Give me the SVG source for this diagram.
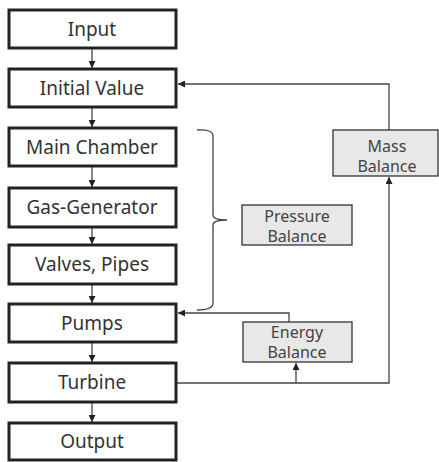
<svg xmlns="http://www.w3.org/2000/svg" width="439" height="462" viewBox="0 0 439 462">
<defs>
<style>
.box{fill:#fff;stroke:#222;stroke-width:3}
.bal{fill:#e8e8e8;stroke:#333;stroke-width:1.3}
.t{font-family:"Noto Sans","Open Sans",sans-serif;font-size:19px;fill:#333;text-anchor:middle}
.s{font-family:"Noto Sans","Open Sans",sans-serif;font-size:16px;fill:#444;text-anchor:middle}
.c{fill:none;stroke:#444;stroke-width:1.3}
</style>
<marker id="ah" viewBox="0 0 10 10" refX="10" refY="5" markerWidth="7" markerHeight="7" markerUnits="userSpaceOnUse" orient="auto">
<path d="M0,0 L10,5 L0,10 z" fill="#222"/>
</marker>
</defs>
<rect width="439" height="462" fill="#fff"/>
<g id="connectors">
<line class="c" x1="92" y1="49" x2="92" y2="68" marker-end="url(#ah)"/>
<line class="c" x1="92" y1="108" x2="92" y2="127" marker-end="url(#ah)"/>
<line class="c" x1="92" y1="167" x2="92" y2="187" marker-end="url(#ah)"/>
<line class="c" x1="92" y1="228" x2="92" y2="244" marker-end="url(#ah)"/>
<line class="c" x1="92" y1="285" x2="92" y2="303" marker-end="url(#ah)"/>
<line class="c" x1="92" y1="343" x2="92" y2="362" marker-end="url(#ah)"/>
<line class="c" x1="92" y1="403" x2="92" y2="422" marker-end="url(#ah)"/>
<polyline class="c" points="389,130 389,84 178,84" marker-end="url(#ah)"/>
<polyline class="c" points="289,322 289,313 178,313" marker-end="url(#ah)"/>
<polyline class="c" points="177,383 389,383 389,177" marker-end="url(#ah)"/>
<line class="c" x1="296" y1="383" x2="296" y2="363" marker-end="url(#ah)"/>
<path class="c" d="M197,130 Q213,129 213,136 L213,215 Q213,220 227,220 Q213,220 213,225 L213,303 Q213,310 197,310"/>
</g>
<g id="input"><rect class="box" x="9" y="10" width="167" height="38"/><text class="t" x="92" y="36">Input</text></g>
<g id="initial-value"><rect class="box" x="9" y="69" width="167" height="38"/><text class="t" x="92" y="95">Initial Value</text></g>
<g id="main-chamber"><rect class="box" x="9" y="128" width="167" height="38"/><text class="t" x="92" y="154">Main Chamber</text></g>
<g id="gas-generator"><rect class="box" x="9" y="188" width="167" height="39"/><text class="t" x="92" y="214">Gas-Generator</text></g>
<g id="valves-pipes"><rect class="box" x="9" y="245" width="167" height="39"/><text class="t" x="92" y="271">Valves, Pipes</text></g>
<g id="pumps"><rect class="box" x="9" y="304" width="167" height="38"/><text class="t" x="92" y="330">Pumps</text></g>
<g id="turbine"><rect class="box" x="9" y="363" width="167" height="39"/><text class="t" x="92" y="389">Turbine</text></g>
<g id="output"><rect class="box" x="9" y="423" width="167" height="37"/><text class="t" x="92" y="448">Output</text></g>
<g id="mass-balance"><rect class="bal" x="333" y="130" width="105" height="46"/><text class="s" x="387" y="152">Mass</text><text class="s" x="387" y="172">Balance</text></g>
<g id="pressure-balance"><rect class="bal" x="242" y="205" width="110" height="40"/><text class="s" x="297" y="222">Pressure</text><text class="s" x="297" y="242">Balance</text></g>
<g id="energy-balance"><rect class="bal" x="243" y="322" width="109" height="40"/><text class="s" x="297" y="338">Energy</text><text class="s" x="297" y="358">Balance</text></g>
</svg>
